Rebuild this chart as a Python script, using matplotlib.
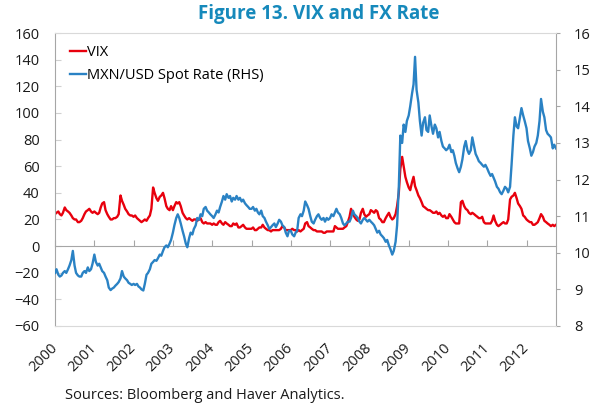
import matplotlib.pyplot as plt
import pandas as pd

# semi-monthly readings, one list per year
vix_2000 = [24, 25, 26, 24, 23, 25, 29, 27, 26, 25, 23, 21, 20, 20, 18, 18, 19, 21, 24, 26, 27, 28, 26, 25]
vix_2001 = [26, 25, 24, 25, 29, 32, 33, 27, 24, 22, 20, 20, 21, 21, 22, 24, 38, 34, 31, 28, 26, 24, 23, 23]
vix_2002 = [22, 23, 21, 20, 19, 18, 19, 20, 19, 21, 23, 28, 44, 40, 36, 34, 37, 38, 40, 36, 30, 28, 27, 30]
vix_2003 = [27, 30, 33, 32, 33, 30, 25, 23, 21, 20, 21, 20, 19, 20, 20, 19, 20, 21, 18, 17, 18, 17, 17, 17]
vix_2004 = [16, 17, 16, 16, 18, 19, 17, 16, 18, 17, 16, 15, 15, 17, 16, 17, 14, 14, 15, 16, 14, 13, 13, 13]
vix_2005 = [13, 14, 12, 12, 13, 14, 14, 16, 14, 13, 12, 12, 11, 12, 12, 12, 12, 12, 13, 15, 14, 12, 12, 12]
vix_2006 = [12, 13, 12, 12, 11, 12, 11, 12, 13, 17, 18, 15, 14, 13, 12, 12, 11, 11, 11, 11, 10, 10, 11, 11]
vix_2007 = [11, 11, 11, 15, 14, 13, 13, 13, 13, 14, 15, 18, 22, 28, 24, 22, 20, 19, 20, 25, 28, 24, 22, 23]
vix_2008 = [24, 27, 26, 25, 27, 26, 21, 20, 18, 18, 21, 23, 25, 22, 20, 21, 24, 30, 40, 58, 67, 60, 52, 48]
vix_2009 = [44, 42, 48, 52, 45, 42, 38, 36, 33, 30, 29, 28, 27, 27, 26, 25, 25, 26, 24, 25, 23, 22, 23, 21]
vix_2010 = [21, 24, 22, 20, 18, 17, 17, 17, 33, 34, 30, 28, 27, 25, 24, 25, 24, 23, 22, 21, 21, 22, 18, 17]
vix_2011 = [17, 17, 17, 19, 23, 19, 16, 15, 16, 17, 18, 17, 17, 20, 35, 37, 38, 40, 36, 32, 30, 28, 23, 22]
vix_2012 = [20, 19, 18, 18, 16, 16, 17, 18, 21, 24, 22, 19, 18, 17, 16, 15, 16, 15, 16]

mxn_2000 = [9.45, 9.55, 9.40, 9.35, 9.38, 9.45, 9.50, 9.45, 9.55, 9.65, 9.80, 10.05,
            9.65, 9.45, 9.38, 9.35, 9.35, 9.45, 9.50, 9.45, 9.60, 9.50, 9.55, 9.70]
mxn_2001 = [9.95, 9.75, 9.65, 9.70, 9.60, 9.50, 9.45, 9.35, 9.25, 9.05, 8.98, 9.02,
            9.05, 9.10, 9.15, 9.20, 9.30, 9.50, 9.35, 9.30, 9.25, 9.18, 9.15, 9.12]
mxn_2002 = [9.15, 9.12, 9.15, 9.08, 9.05, 9.00, 8.97, 9.15, 9.40, 9.45, 9.55, 9.70,
            9.75, 9.80, 9.78, 9.85, 9.95, 9.92, 10.05, 10.15, 10.20, 10.15, 10.25, 10.35]
mxn_2003 = [10.55, 10.75, 10.95, 11.05, 10.95, 10.80, 10.60, 10.45, 10.25, 10.15, 10.40, 10.55,
            10.50, 10.65, 10.75, 10.95, 10.90, 11.05, 11.00, 11.20, 11.25, 11.15, 11.10, 11.05]
mxn_2004 = [11.00, 10.95, 11.05, 11.15, 11.10, 11.25, 11.40, 11.55, 11.45, 11.60, 11.50, 11.55,
            11.40, 11.50, 11.45, 11.55, 11.45, 11.50, 11.40, 11.45, 11.35, 11.30, 11.25, 11.20]
mxn_2005 = [11.20, 11.25, 11.15, 11.20, 11.10, 11.05, 11.15, 11.00, 10.95, 10.85, 10.75, 10.65,
            10.70, 10.75, 10.80, 10.70, 10.80, 10.90, 10.85, 10.75, 10.70, 10.55, 10.45, 10.60]
mxn_2006 = [10.60, 10.50, 10.45, 10.55, 10.60, 10.95, 11.05, 11.00, 11.15, 11.40, 11.30, 11.20,
            11.00, 10.85, 10.80, 10.90, 11.00, 11.05, 10.95, 10.90, 10.95, 10.85, 10.95, 10.90]
mxn_2007 = [10.95, 11.05, 11.00, 11.10, 11.20, 11.10, 11.05, 10.95, 10.80, 10.75, 10.80, 10.85,
            10.85, 10.95, 11.15, 11.05, 11.00, 10.95, 10.85, 10.80, 10.90, 10.95, 10.90, 10.85]
mxn_2008 = [10.90, 10.85, 10.80, 10.75, 10.65, 10.55, 10.60, 10.50, 10.45, 10.40, 10.30, 10.35,
            10.20, 10.10, 9.95, 10.05, 10.30, 10.75, 11.80, 13.20, 13.00, 13.50, 13.30, 13.60]
mxn_2009 = [13.75, 14.00, 14.35, 14.60, 15.35, 14.45, 14.10, 13.60, 13.20, 13.55, 13.70, 13.35,
            13.30, 13.75, 13.45, 13.25, 13.50, 13.40, 13.15, 13.30, 13.05, 12.90, 12.85, 12.80]
mxn_2010 = [12.85, 12.95, 12.75, 12.80, 12.65, 12.45, 12.30, 12.20, 12.35, 12.55, 12.90, 13.05,
            12.80, 12.70, 12.80, 13.15, 12.90, 12.70, 12.60, 12.50, 12.45, 12.40, 12.35, 12.40]
mxn_2011 = [12.30, 12.20, 12.10, 12.15, 12.05, 11.95, 11.80, 11.75, 11.65, 11.60, 11.70, 11.80,
            11.75, 11.65, 11.80, 12.40, 13.20, 13.70, 13.45, 13.40, 13.70, 13.95, 13.75, 13.60]
mxn_2012 = [13.40, 13.05, 12.85, 12.65, 12.75, 12.90, 13.00, 13.20, 13.60, 14.20, 13.85, 13.70,
            13.35, 13.25, 13.20, 13.15, 12.85, 12.95, 12.85]

vix = (vix_2000 + vix_2001 + vix_2002 + vix_2003 + vix_2004 + vix_2005 + vix_2006
       + vix_2007 + vix_2008 + vix_2009 + vix_2010 + vix_2011 + vix_2012)
mxn = (mxn_2000 + mxn_2001 + mxn_2002 + mxn_2003 + mxn_2004 + mxn_2005 + mxn_2006
       + mxn_2007 + mxn_2008 + mxn_2009 + mxn_2010 + mxn_2011 + mxn_2012)
dates = pd.date_range('2000-01-01', periods=len(vix), freq='SMS')

years = list(range(2000, 2013))
left_ticks = list(range(-60, 161, 20))
right_ticks = list(range(8, 17))

plt.rcParams['font.family'] = 'Open Sans'
red = '#e8000d'
blue = '#2a82c4'
grey = '#a6a6a6'

fig = plt.figure(figsize=(5.97, 4.08), dpi=100)
ax = fig.add_axes([0.0921, 0.201, 0.8392, 0.718])
ax2 = ax.twinx()

l1, = ax.plot(dates, vix, color=red, lw=1.7, label='VIX')
l2, = ax2.plot(dates, mxn, color=blue, lw=1.7, label='MXN/USD Spot Rate (RHS)')

ax.set_xlim(dates[0], dates[-1])
ax.set_ylim(-60, 160)
ax2.set_ylim(8, 16)
ax.set_yticks(left_ticks)
ax2.set_yticks(right_ticks)

year_pos = [pd.Timestamp(f'{y}-01-01') for y in years]
ax.set_xticks(year_pos)
ax.tick_params(axis='x', direction='in', length=4, color=grey, labelbottom=False)
ax.spines['bottom'].set_position(('data', 0))
ax.spines['bottom'].set_color(grey)
ax.spines['top'].set_visible(False)
ax.spines['left'].set_color(grey)
ax.spines['right'].set_visible(False)

ax2.xaxis.set_visible(True)
ax2.set_xticks(year_pos)
ax2.set_xticklabels([str(y) for y in years], rotation=45, ha='right', va='center',
                    rotation_mode='anchor', fontsize=10.5, color='#1a1a1a')
ax2.tick_params(axis='x', length=0, pad=14)
for s in ['top', 'bottom']:
    ax2.spines[s].set_color('#d9d9d9')
ax2.spines['left'].set_visible(False)
ax2.spines['right'].set_color(grey)

ax.tick_params(axis='y', direction='in', length=4, color='#d0d0d0', pad=11,
               labelsize=10.5, labelcolor='#1a1a1a')
ax2.tick_params(axis='y', direction='out', length=3, color=grey, pad=10,
                labelsize=10.5, labelcolor='#1a1a1a')

ax2.legend(handles=[l1, l2], loc='upper left', frameon=False, fontsize=10.5,
           handlelength=1.1, handletextpad=0.1, labelspacing=0.55,
           borderaxespad=0.4, bbox_to_anchor=(0.006, 1.0))

fig.text(0.533, 0.966, 'Figure 13. VIX and FX Rate', ha='center', va='center',
         fontsize=13.5, fontweight='bold', color='#1689bb')
fig.text(0.109, 0.03, 'Sources: Bloomberg and Haver Analytics.', ha='left', va='center',
         fontsize=10.5, color='#1a1a1a')

fig.savefig('out.png', dpi=100)
